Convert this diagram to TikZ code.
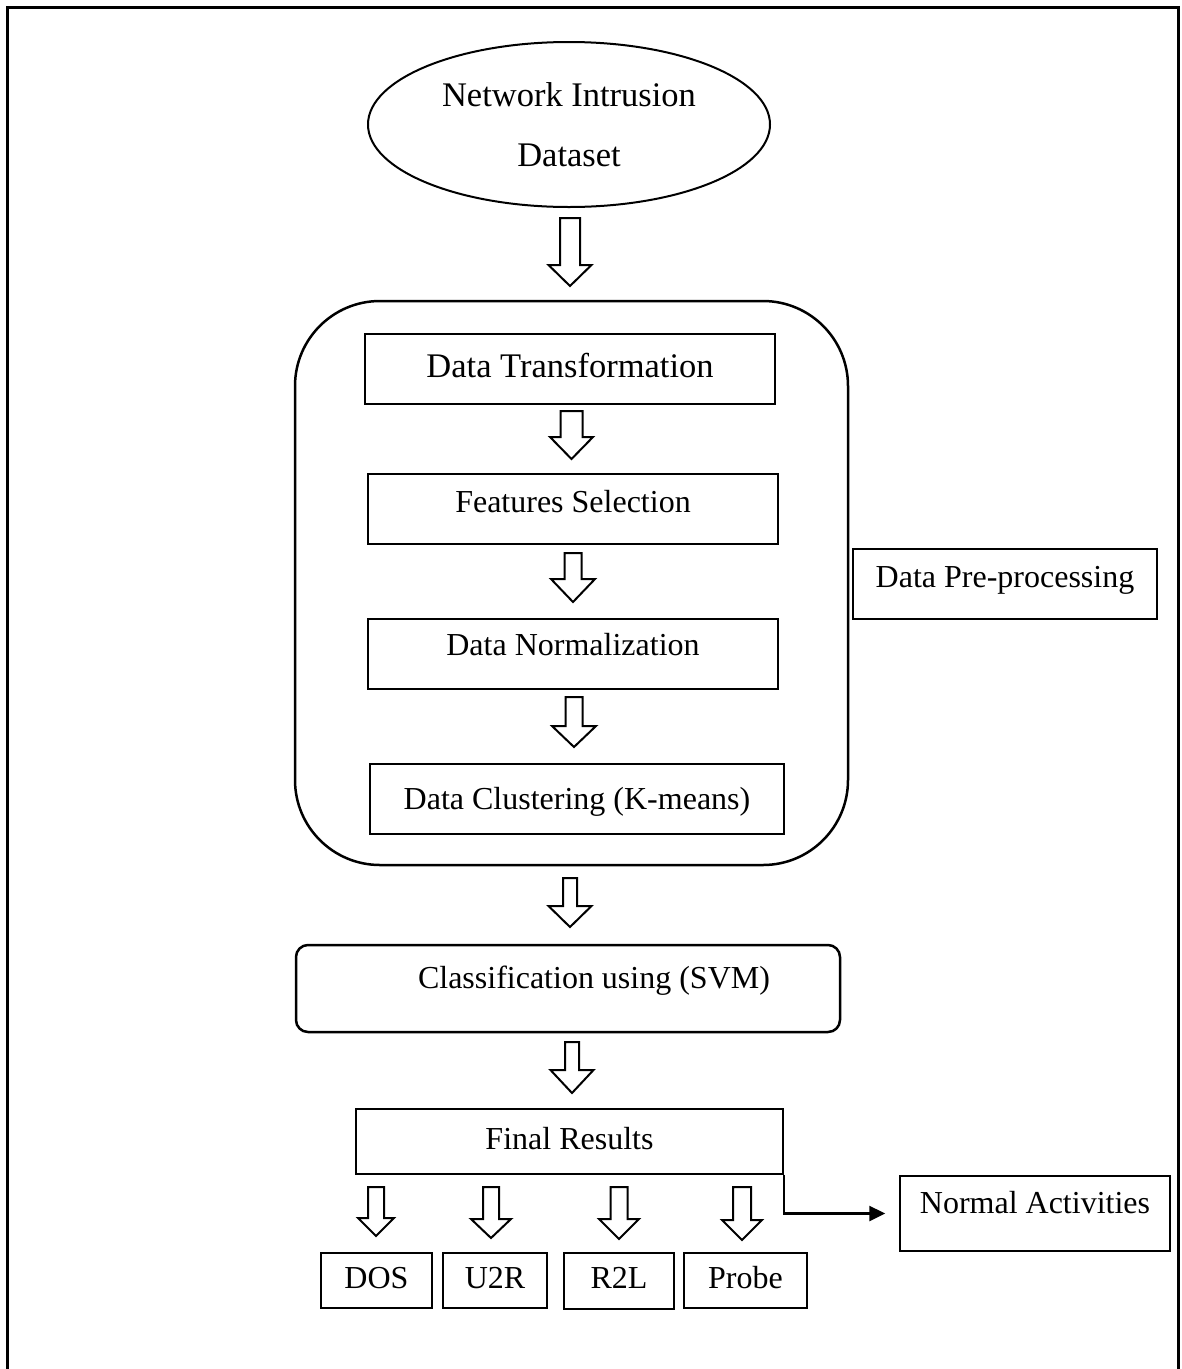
\documentclass[tikz,border=0pt]{standalone}
\usepackage{fontspec}
\setmainfont{Liberation Serif}
\usetikzlibrary{shapes.geometric,arrows.meta}

\tikzset{
  box/.style={draw, line width=1.5pt, rectangle, inner sep=0pt,
    font=\fontsize{32}{38}\selectfont, text height=22pt, text depth=7pt},
  bigtext/.style={font=\fontsize{34.5}{40}\selectfont, text height=24pt, text depth=8pt},
  blockarrow/.style={draw, line width=2pt, fill=white, line join=miter},
  frame/.style={line width=3pt},
  conn/.style={line width=2.5pt, -{Triangle[length=16pt,width=15pt]}},
  % hollow downward block arrow: length / shaft half-width / head half-width / head length
  pics/hollow/.style args={#1/#2/#3/#4}{code={
    \draw[blockarrow] (-#2,0) -- (-#2,#1-#4) -- (-#3,#1-#4) -- (0,#1)
      -- (#3,#1-#4) -- (#2,#1-#4) -- (#2,0) -- cycle;}}
}

\begin{document}
\begin{tikzpicture}[x=1pt, y=-1pt]
\useasboundingbox (0,0) rectangle (1182,1369);

% page frame (open at the bottom)
\draw[frame] (7.5,1369) -- (7.5,7.5) -- (1178,7.5) -- (1178,1369);

% input dataset
\node[draw, ellipse, line width=2pt, inner sep=0pt, minimum width=402pt,
      minimum height=165pt, align=center,
      font=\fontsize{34.5}{60}\selectfont] (ds) at (569,124.5)
      {Network Intrusion\\Dataset};

% pre-processing group
\node[draw, line width=2.5pt, rounded corners=85pt, minimum width=553pt,
      minimum height=564pt] (pre) at (571.5,583) {};

\node[box, bigtext, minimum width=410pt, minimum height=70pt] (dt) at (570,369)
  {Data Transformation};
\node[box, minimum width=410pt, minimum height=70pt, text depth=15pt] (fs) at (573,509)
  {Features Selection};
\node[box, minimum width=410pt, minimum height=70pt, text depth=19pt] (dn) at (573,654)
  {Data Normalization};
\node[box, minimum width=414pt, minimum height=70pt, text height=28pt] (dc) at (577,799)
  {Data Clustering (K-means)};

\node[box, minimum width=304pt, minimum height=70pt, text depth=15pt] (dp) at (1005,584)
  {Data Pre-processing};

% classification and results
\node[box, line width=2.5pt, rounded corners=12pt, minimum width=544pt,
      minimum height=87pt, text depth=23pt] (cls) at (568,988.5)
  {\hspace*{52pt}Classification using (SVM)};

\node[box, minimum width=427pt, minimum height=65pt] (fr) at (569.5,1141.5)
  {Final Results};

\node[box, minimum width=270pt, minimum height=75pt, text depth=23pt] (na) at (1035,1213.5)
  {Normal Activities};

\node[box, minimum width=111pt, minimum height=55pt] (dos) at (376.5,1280.5) {DOS};
\node[box, minimum width=104pt, minimum height=55pt] (u2r) at (495,1280.5) {U2R};
\node[box, minimum width=110pt, minimum height=56pt] (r2l) at (619,1281) {R2L};
\node[box, minimum width=123pt, minimum height=55pt] (prb) at (745.5,1280.5) {Probe};

% flow arrows
\pic at (570,218) {hollow={68/10/21.5/21}};
\pic at (571.5,411) {hollow={48/11/21.5/22}};
\pic at (573,553) {hollow={49/8.5/22/23}};
\pic at (574,697) {hollow={50/8.5/22/21}};
\pic at (570,878) {hollow={49/7/21.5/21}};
\pic at (572,1042) {hollow={51/7/21.5/23}};

\pic at (376,1187) {hollow={49/8/18/18}};
\pic at (491,1187) {hollow={51/8/20/19}};
\pic at (619,1187) {hollow={52/8.5/20/20}};
\pic at (742,1187) {hollow={53/9/20/20}};

% normal traffic branch
\draw[conn, shorten >=14pt] (fr.south east) |- (na.west);

\end{tikzpicture}
\end{document}
